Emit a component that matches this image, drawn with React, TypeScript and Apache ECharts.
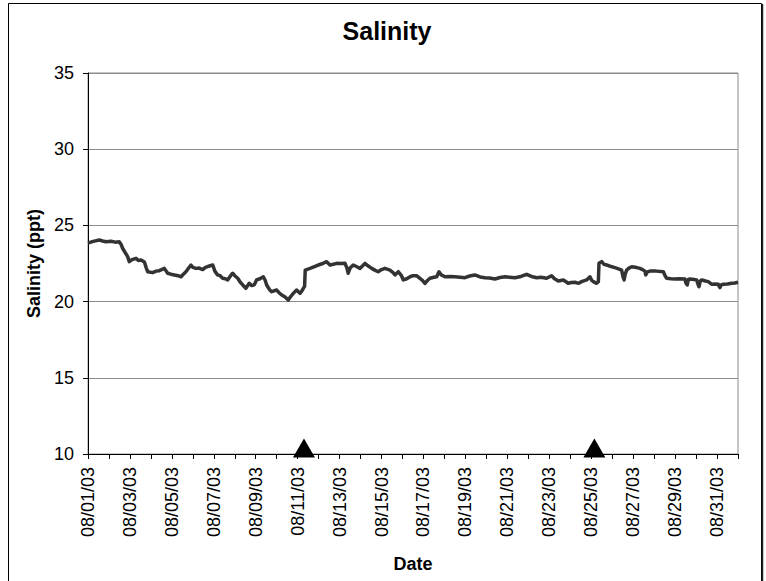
import React, { useEffect, useRef } from "react";
import * as echarts from "echarts";

const FONT = "'Liberation Sans', Arial, sans-serif";

// Day offsets from 08/01/03 00:00 and salinity (ppt)
const days = [
  0.0, 0.06, 0.25, 0.54, 0.7, 0.86, 1.1, 1.3, 1.49, 1.58, 1.65, 1.89, 1.97, 2.1, 2.29, 2.4, 2.53, 2.69, 2.78, 2.85,
  3.08, 3.25, 3.4, 3.64, 3.8, 3.95, 4.12, 4.3, 4.44, 4.55, 4.67, 4.8, 4.91, 5.0, 5.15, 5.3, 5.47, 5.6, 5.71, 5.95,
  6.05, 6.18, 6.3, 6.42, 6.55, 6.66, 6.8, 6.9, 7.0, 7.14, 7.25, 7.38, 7.53, 7.69, 7.8, 7.93, 8.04, 8.2, 8.36, 8.45,
  8.52, 8.65, 8.76, 9.0, 9.1, 9.24, 9.4, 9.55, 9.65, 9.79, 9.95, 10.11, 10.2, 10.27, 10.33, 10.36, 10.59, 10.8, 10.98, 11.2,
  11.38, 11.54, 11.7, 11.86, 12.05, 12.26, 12.35, 12.41, 12.5, 12.65, 12.8, 12.97, 13.1, 13.21, 13.35, 13.53, 13.7, 13.84, 14.0, 14.16,
  14.4, 14.55, 14.64, 14.8, 14.95, 15.04, 15.2, 15.36, 15.5, 15.67, 15.83, 15.95, 16.07, 16.2, 16.31, 16.5, 16.63, 16.74, 16.85, 17.02,
  17.25, 17.5, 17.75, 17.98, 18.2, 18.45, 18.7, 18.93, 19.15, 19.41, 19.65, 19.89, 20.1, 20.36, 20.65, 20.92, 21.15, 21.4, 21.6, 21.87,
  22.11, 22.25, 22.43, 22.67, 22.8, 22.9, 23.05, 23.22, 23.4, 23.54, 23.78, 23.94, 24.02, 24.1, 24.26, 24.34, 24.37, 24.5, 24.6, 24.74,
  24.95, 25.13, 25.3, 25.45, 25.52, 25.57, 25.62, 25.69, 25.8, 25.93, 26.1, 26.32, 26.45, 26.56, 26.6, 26.68, 26.8, 27.1, 27.44, 27.52,
  27.6, 27.8, 27.99, 28.2, 28.47, 28.52, 28.58, 28.63, 28.71, 28.9, 29.03, 29.1, 29.14, 29.2, 29.27, 29.45, 29.58, 29.74, 29.9, 30.06,
  30.1, 30.14, 30.2, 30.3, 30.5, 30.7, 30.85, 31.0,
];

const salinity = [
  23.85, 23.87, 23.95, 24.04, 23.98, 23.93, 23.96, 23.9, 23.93, 23.75, 23.5, 22.95, 22.62, 22.75, 22.84, 22.7, 22.73, 22.6, 22.2, 21.96,
  21.9, 22.0, 22.03, 22.18, 21.86, 21.8, 21.75, 21.7, 21.63, 21.8, 21.96, 22.2, 22.4, 22.25, 22.18, 22.2, 22.1, 22.25, 22.3, 22.4,
  22.0, 21.75, 21.7, 21.53, 21.5, 21.42, 21.7, 21.86, 21.7, 21.53, 21.3, 21.09, 20.87, 21.2, 21.05, 21.1, 21.42, 21.5, 21.63, 21.4,
  21.09, 20.8, 20.65, 20.76, 20.6, 20.43, 20.3, 20.1, 20.3, 20.54, 20.76, 20.54, 20.7, 20.87, 21.0, 22.07, 22.18, 22.3, 22.4, 22.5,
  22.62, 22.4, 22.45, 22.51, 22.5, 22.51, 22.2, 21.86, 22.2, 22.4, 22.3, 22.18, 22.35, 22.51, 22.35, 22.18, 22.05, 21.96, 22.1, 22.18,
  22.07, 21.9, 21.75, 21.96, 21.7, 21.42, 21.5, 21.63, 21.7, 21.7, 21.53, 21.4, 21.2, 21.4, 21.53, 21.6, 21.63, 21.96, 21.75, 21.63,
  21.65, 21.63, 21.6, 21.57, 21.68, 21.75, 21.62, 21.57, 21.55, 21.48, 21.58, 21.63, 21.6, 21.57, 21.65, 21.79, 21.65, 21.57, 21.6, 21.53,
  21.7, 21.5, 21.35, 21.42, 21.3, 21.2, 21.25, 21.27, 21.2, 21.31, 21.42, 21.63, 21.4, 21.31, 21.2, 21.3, 22.51, 22.62, 22.45, 22.4,
  22.3, 22.23, 22.15, 22.07, 21.6, 21.42, 21.8, 22.07, 22.2, 22.29, 22.25, 22.18, 22.1, 22.0, 21.75, 21.95, 22.0, 22.0, 21.96, 21.7,
  21.53, 21.5, 21.48, 21.5, 21.48, 21.2, 21.09, 21.45, 21.48, 21.45, 21.42, 21.1, 20.98, 21.35, 21.42, 21.35, 21.31, 21.14, 21.15, 21.14,
  21.0, 20.92, 21.1, 21.14, 21.15, 21.2, 21.22, 21.27,
];

// Event markers (triangles on the axis)
const eventDays = [10.3, 24.15];
const eventLevel = [10, 10];

// Tick labels every 2 days
const dateLabels = [
  "08/01/03", "08/03/03", "08/05/03", "08/07/03", "08/09/03", "08/11/03", "08/13/03", "08/15/03",
  "08/17/03", "08/19/03", "08/21/03", "08/23/03", "08/25/03", "08/27/03", "08/29/03", "08/31/03",
];

export default function App() {
  const ref = useRef<HTMLDivElement>(null);

  useEffect(() => {
    if (!ref.current) return;
    const chart = echarts.init(ref.current, undefined, { renderer: "svg" });
    chart.setOption({
      animation: false,
      backgroundColor: "#ffffff",
      title: {
        text: "Salinity",
        left: 387,
        textAlign: "center",
        top: 18,
        padding: 0,
        textStyle: { fontFamily: FONT, fontSize: 25, fontWeight: "bold", color: "#000" },
      },
      grid: {
        left: 88,
        top: 73,
        right: 28,
        bottom: 127,
        show: true,
        borderColor: "#8c8c8c",
        borderWidth: 1,
        backgroundColor: "transparent",
      },
      xAxis: {
        type: "value",
        min: 0,
        max: 31,
        interval: 1,
        name: "Date",
        nameLocation: "middle",
        nameGap: 101,
        nameTextStyle: { fontFamily: FONT, fontSize: 18, fontWeight: "bold", color: "#000" },
        axisLine: { show: true, onZero: false, lineStyle: { color: "#000", width: 1 } },
        axisTick: { show: true, length: 5, lineStyle: { color: "#000" } },
        splitLine: { show: false },
        axisLabel: {
          rotate: 90,
          margin: 13,
          fontFamily: FONT,
          fontSize: 18,
          color: "#000",
          showMaxLabel: true,
          formatter: (v: number) => (Math.round(v) % 2 === 0 ? dateLabels[Math.round(v) / 2] || "" : ""),
        },
      },
      yAxis: {
        type: "value",
        min: 10,
        max: 35,
        interval: 5,
        name: "Salinity (ppt)",
        nameLocation: "middle",
        nameGap: 45,
        nameTextStyle: { fontFamily: FONT, fontSize: 18, fontWeight: "bold", color: "#000" },
        axisLine: { show: true, lineStyle: { color: "#000", width: 1 } },
        axisTick: { show: true, length: 5, lineStyle: { color: "#000" } },
        splitLine: { show: true, lineStyle: { color: "#8c8c8c", width: 1 } },
        axisLabel: { margin: 14, fontFamily: FONT, fontSize: 18, color: "#000" },
      },
      series: [
        {
          type: "line",
          data: days.map((d, i) => [d, salinity[i]]),
          showSymbol: false,
          symbol: "none",
          lineStyle: { color: "#333333", width: 3.5, join: "round" },
          z: 3,
        },
        {
          type: "scatter",
          data: eventDays.map((d, i) => [d, eventLevel[i]]),
          symbol: "triangle",
          symbolSize: [22, 19],
          symbolOffset: [0, -6],
          itemStyle: { color: "#000", opacity: 1 },
          clip: false,
          z: 5,
        },
      ],
      graphic: [
        {
          type: "rect",
          shape: { x: 8.5, y: 3.5, width: 753, height: 700 },
          style: { fill: "none", stroke: "#000", lineWidth: 1 },
          silent: true,
        },
        {
          type: "line",
          shape: { x1: 762.5, y1: 4, x2: 762.5, y2: 581 },
          style: { stroke: "#222", lineWidth: 1.5 },
          silent: true,
        },
      ],
    });
    return () => chart.dispose();
  }, []);

  return (
    <div
      ref={ref}
      style={{ position: "fixed", left: 0, top: 0, width: 766, height: 581 }}
    />
  );
}
